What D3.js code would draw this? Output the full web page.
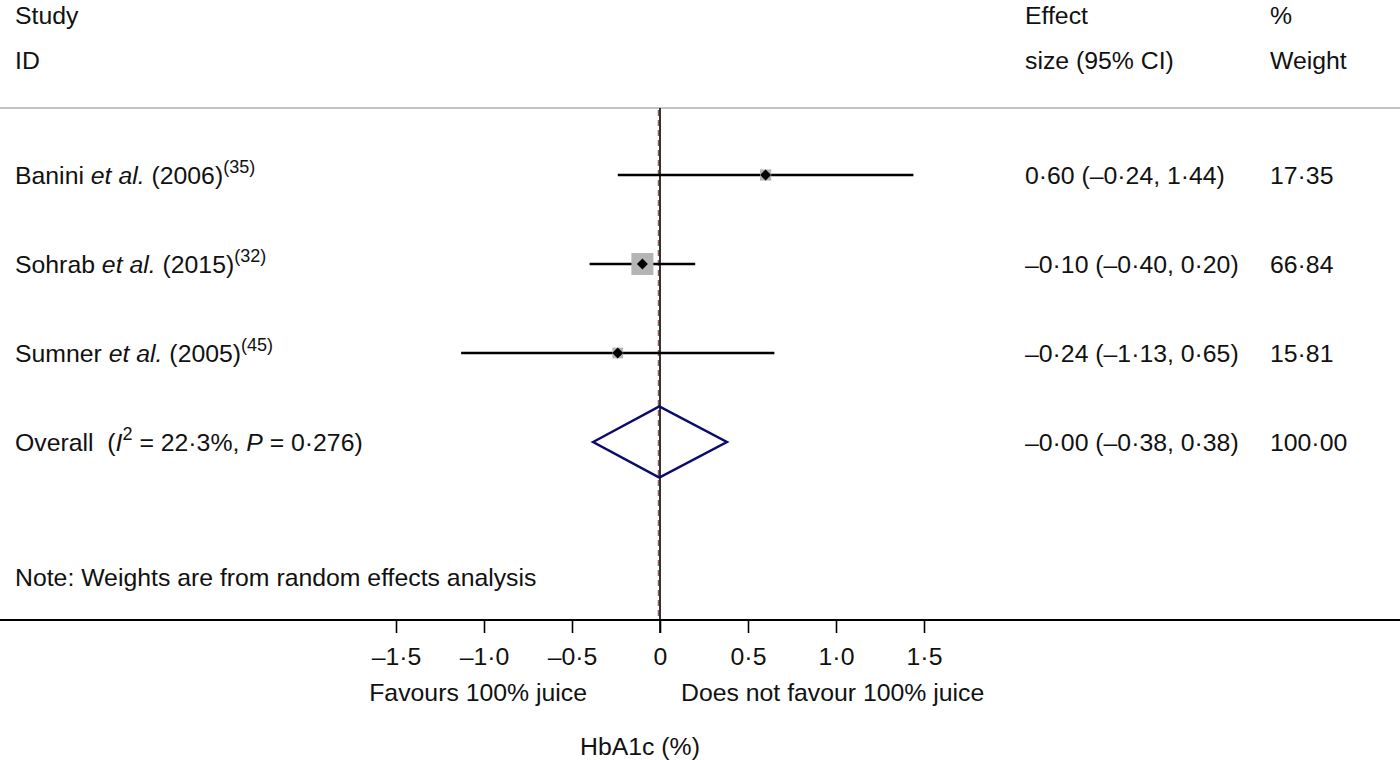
<!DOCTYPE html>
<html>
<head>
<meta charset="utf-8" />
<title>HbA1c forest plot</title>
<script src="https://d3js.org/d3.v7.min.js"></script>
<style>
  body { margin: 0; padding: 0; background: #ffffff; }
  svg text { font-family: "Liberation Sans", Arial, Helvetica, sans-serif; font-size: 24.8px; fill: #111; white-space: pre; }
</style>
</head>
<body>
<div id="chart"></div>
<script>

// study rows
const authors = ['Banini', 'Sohrab', 'Sumner']
const years = ['2006', '2015', '2005']
const refs = ['35', '32', '45']
const es = [0.60, -0.10, -0.24]
const lower = [-0.24, -0.40, -1.13]
const upper = [1.44, 0.20, 0.65]
const weights = [17.35, 66.84, 15.81]

// pooled estimate
const overallEs = -0.004
const overallLower = -0.38
const overallUpper = 0.38
const overallWeight = 100.00
const i2 = '22·3%'
const pValue = '0·276'

const tickValues = [-1.5, -1.0, -0.5, 0, 0.5, 1.0, 1.5]
const rowKeys = ['r0', 'r1', 'r2', 'overall']

const width = 1400, height = 760

const svg = d3.select('#chart')
  .append('svg')
  .attr('width', width)
  .attr('height', height)

const x = d3.scaleLinear()
  .domain([-1.5, 1.5])
  .range([396, 924])

const y = d3.scalePoint()
  .domain(rowKeys)
  .range([175, 442])

const boxSide = d3.scaleSqrt()
  .domain([0, d3.max(weights)])
  .range([0, 22])

// stata style numbers: en dash minus and middle dot
const num = (v, d) => (v < 0 ? '–' : '') + Math.abs(v).toFixed(d).replace('.', '·')
const tickFmt = v => v === 0 ? '0' : num(v, 1)

const headerY = 108, axisY = 620

// header
svg.append('text').attr('x', 15).attr('y', 15).attr('dy', '0.35em').text('Study')
svg.append('text').attr('x', 15).attr('y', 60).attr('dy', '0.35em').text('ID')
svg.append('text').attr('x', 1025).attr('y', 15).attr('dy', '0.35em').text('Effect')
svg.append('text').attr('x', 1025).attr('y', 60).attr('dy', '0.35em').text('size (95% CI)')
svg.append('text').attr('x', 1270).attr('y', 15).attr('dy', '0.35em').text('%')
svg.append('text').attr('x', 1270).attr('y', 60).attr('dy', '0.35em').text('Weight')

svg.append('line')
  .attr('x1', 0).attr('x2', width)
  .attr('y1', headerY).attr('y2', headerY)
  .attr('stroke', '#c4c4c4').attr('stroke-width', 2)

// overall effect line (dashed) + null line
svg.append('line')
  .attr('x1', x(overallEs) - 1).attr('x2', x(overallEs) - 1)
  .attr('y1', headerY + 2).attr('y2', axisY)
  .attr('stroke', '#7a3030').attr('stroke-width', 1)
  .attr('stroke-dasharray', '6,4')

svg.append('line')
  .attr('x1', x(0)).attr('x2', x(0))
  .attr('y1', headerY).attr('y2', axisY + 13)
  .attr('stroke', '#000').attr('stroke-width', 1.6)

// study rows
const studies = authors.map((a, i) => ({
  key: rowKeys[i], author: a, year: years[i], ref: refs[i],
  es: es[i], lo: lower[i], hi: upper[i], w: weights[i]
}))

const row = svg.selectAll('g.study')
  .data(studies)
  .enter()
  .append('g')
  .attr('class', 'study')

row.append('line')
  .attr('x1', d => x(d.lo)).attr('x2', d => x(d.hi))
  .attr('y1', d => y(d.key)).attr('y2', d => y(d.key))
  .attr('stroke', '#000').attr('stroke-width', 2.5)

row.append('rect')
  .attr('x', d => x(d.es) - boxSide(d.w) / 2)
  .attr('y', d => y(d.key) - boxSide(d.w) / 2)
  .attr('width', d => boxSide(d.w))
  .attr('height', d => boxSide(d.w))
  .attr('fill', '#b4b4b4')

row.append('path')
  .attr('d', d => {
    const cx = x(d.es), cy = y(d.key), r = 5.5
    return `M${cx - r},${cy}L${cx},${cy - r}L${cx + r},${cy}L${cx},${cy + r}Z`
  })
  .attr('fill', '#000')

const label = row.append('text')
  .attr('x', 15)
  .attr('y', d => y(d.key))
  .attr('dy', '0.35em')
label.append('tspan').text(d => d.author + ' ')
label.append('tspan').attr('font-style', 'italic').text('et al.')
label.append('tspan').text(d => ' (' + d.year + ')')
label.append('tspan')
  .attr('font-size', '18px')
  .attr('dy', '-0.6em')
  .text(d => '(' + d.ref + ')')

row.append('text')
  .attr('x', 1025)
  .attr('y', d => y(d.key))
  .attr('dy', '0.35em')
  .text(d => `${num(d.es, 2)} (${num(d.lo, 2)}, ${num(d.hi, 2)})`)

row.append('text')
  .attr('x', 1270)
  .attr('y', d => y(d.key))
  .attr('dy', '0.35em')
  .text(d => num(d.w, 2))

// overall diamond
const oy = y('overall'), dh = 35.5
svg.append('path')
  .attr('d', `M${x(overallLower)},${oy}L${x(overallEs)},${oy - dh}L${x(overallUpper)},${oy}L${x(overallEs)},${oy + dh}Z`)
  .attr('fill', 'none')
  .attr('stroke', '#0b0b6e')
  .attr('stroke-width', 2.5)
  .attr('stroke-linejoin', 'miter')

const ol = svg.append('text').attr('x', 15).attr('y', oy).attr('dy', '0.35em')
ol.append('tspan').text('Overall  (')
ol.append('tspan').attr('font-style', 'italic').text('I')
ol.append('tspan').attr('font-size', '18px').attr('dy', '-0.6em').text('2')
ol.append('tspan').attr('dy', '0.44em').text(' = ' + i2 + ', ')
ol.append('tspan').attr('font-style', 'italic').text('P')
ol.append('tspan').text(' = ' + pValue + ')')

svg.append('text').attr('x', 1025).attr('y', oy).attr('dy', '0.35em')
  .text(`${num(overallEs, 2)} (${num(overallLower, 2)}, ${num(overallUpper, 2)})`)
svg.append('text').attr('x', 1270).attr('y', oy).attr('dy', '0.35em')
  .text(num(overallWeight, 2))

svg.append('text').attr('x', 15).attr('y', 577).attr('dy', '0.35em')
  .text('Note: Weights are from random effects analysis')

// x axis
svg.append('line')
  .attr('x1', 0).attr('x2', width)
  .attr('y1', axisY).attr('y2', axisY)
  .attr('stroke', '#000').attr('stroke-width', 2)

const axis = svg.append('g')
  .attr('transform', `translate(0,${axisY})`)
  .call(d3.axisBottom(x).tickValues(tickValues).tickFormat(tickFmt).tickSize(13).tickPadding(14))
axis.select('.domain').remove()
axis.selectAll('.tick line').attr('stroke', '#000').attr('stroke-width', 1.6)
axis.selectAll('.tick text').attr('font-size', '24.8px')
  .attr('font-family', '"Liberation Sans", Arial, sans-serif').attr('fill', '#111')

svg.append('text').attr('x', x(0) - 73).attr('y', 692).attr('dy', '0.35em')
  .attr('text-anchor', 'end').text('Favours 100% juice')
svg.append('text').attr('x', x(0) + 21).attr('y', 692).attr('dy', '0.35em')
  .text('Does not favour 100% juice')

svg.append('text').attr('x', 640).attr('y', 746).attr('dy', '0.35em')
  .attr('text-anchor', 'middle').text('HbA1c (%)')

</script>
</body>
</html>
